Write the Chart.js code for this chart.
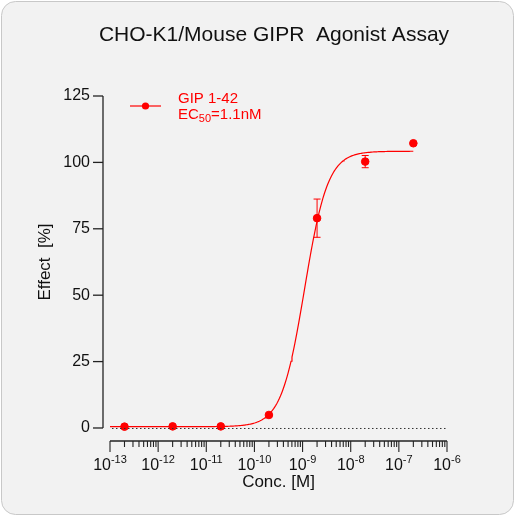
<!DOCTYPE html>
<html><head><meta charset="utf-8">
<script src="https://cdn.jsdelivr.net/npm/chart.js@4"></script>
<style>html,body{margin:0;padding:0;background:#fff}#w{width:515px;height:516px}</style>
</head><body><div id="w"><canvas id="c" width="515" height="516"></canvas></div>
<script>
const concentrations = [2e-13, 2e-12, 2e-11, 2e-10, 2e-9, 2e-8, 2e-7];
const effects = [0.5, 0.6, 0.6, 4.9, 79, 100.3, 107.2];
const errors = [0, 0, 0, 0, 7.2, 2.3, 0];
// four-parameter logistic fit
const fitBottom = 0.5, fitTop = 104.2, fitEC50 = 1.1e-9, fitHill = 1.8;
const xDecades = [-13, -12, -11, -10, -9, -8, -7, -6];
const yTicks = [0, 25, 50, 75, 100, 125];

const curve = [];
for (let e = -13; e <= Math.log10(2e-7) + 1e-9; e += 0.02) {
  const x = Math.pow(10, e);
  curve.push({x, y: fitBottom + (fitTop - fitBottom) / (1 + Math.pow(fitEC50 / x, fitHill))});
}
const RED = '#ff0000', F = '"Liberation Sans", Arial, sans-serif';

const deco = {
  id: 'deco',
  beforeDraw(ch) {
    const c = ch.ctx; c.save();
    c.fillStyle = '#f2f2f2'; c.strokeStyle = '#c8c8c8'; c.lineWidth = 1;
    c.beginPath(); c.roundRect(1.5, 1.5, 512, 513, 14); c.fill(); c.stroke();
    c.restore();
  },
  afterDatasetsDraw(ch) {
    const c = ch.ctx, xs = ch.scales.x, ys = ch.scales.y;
    c.save();
    c.strokeStyle = RED; c.lineWidth = 1;
    concentrations.forEach((x, i) => {
      if (!errors[i]) return;
      const px = xs.getPixelForValue(x), t = ys.getPixelForValue(effects[i] + errors[i]), b = ys.getPixelForValue(effects[i] - errors[i]);
      c.beginPath(); c.moveTo(px, t); c.lineTo(px, b);
      c.moveTo(px - 3.5, t); c.lineTo(px + 3.5, t); c.moveTo(px - 3.5, b); c.lineTo(px + 3.5, b); c.stroke();
    });
    const y0 = ys.getPixelForValue(0);
    c.strokeStyle = '#333'; c.setLineDash([1.5, 2.5]);
    c.beginPath(); c.moveTo(xs.left + 2, y0 + 0.5); c.lineTo(xs.right, y0 + 0.5); c.stroke(); c.setLineDash([]);
    c.strokeStyle = '#222'; c.lineWidth = 1.3;
    const ax = xs.left - 7;
    c.beginPath(); c.moveTo(ax, ys.getPixelForValue(125)); c.lineTo(ax, y0); c.stroke();
    c.fillStyle = '#111'; c.font = '16px ' + F; c.textAlign = 'right'; c.textBaseline = 'middle';
    yTicks.forEach(v => {
      const p = ys.getPixelForValue(v);
      c.beginPath(); c.moveTo(ax - 10, p); c.lineTo(ax, p); c.stroke();
      c.fillText(String(v), ax - 13, p);
    });
    const xb = ys.bottom;
    c.beginPath(); c.moveTo(xs.left, xb); c.lineTo(xs.right, xb); c.stroke();
    c.lineWidth = 1.1;
    xDecades.forEach((d, k) => {
      const p = xs.getPixelForValue(Math.pow(10, d));
      c.beginPath(); c.moveTo(p, xb); c.lineTo(p, xb + 11); c.stroke();
      if (k < xDecades.length - 1) for (let m = 2; m <= 9; m++) {
        const q = xs.getPixelForValue(m * Math.pow(10, d));
        c.beginPath(); c.moveTo(q, xb); c.lineTo(q, xb + 6); c.stroke();
      }
      c.font = '16px ' + F; c.textAlign = 'left'; c.textBaseline = 'alphabetic';
      const base = '10', sup = String(d);
      const w1 = c.measureText(base).width; c.font = '11px ' + F;
      const w2 = c.measureText(sup).width, x0 = p - (w1 + w2) / 2;
      c.font = '16px ' + F; c.fillText(base, x0, xb + 29);
      c.font = '11px ' + F; c.fillText(sup, x0 + w1, xb + 22);
    });
    c.font = '17px ' + F; c.textAlign = 'center'; c.fillStyle = '#111';
    c.fillText('Conc. [M]', (xs.left + xs.right) / 2, 487);
    c.save(); c.translate(50, 262); c.rotate(-Math.PI / 2); c.fillText('Effect  [%]', 0, 0); c.restore();
    c.font = '21px ' + F; c.fillText('CHO-K1/Mouse GIPR  Agonist Assay', 274, 41);
    c.strokeStyle = RED; c.fillStyle = RED; c.lineWidth = 1.2;
    c.beginPath(); c.moveTo(130, 106); c.lineTo(161, 106); c.stroke();
    c.beginPath(); c.arc(145.5, 106, 3.6, 0, Math.PI * 2); c.fill();
    c.font = '15px ' + F; c.textAlign = 'left';
    c.fillText('GIP 1-42', 178, 103);
    c.fillText('EC', 178, 119); let w = c.measureText('EC').width;
    c.font = '11px ' + F; c.fillText('50', 178 + w, 122); let w2 = c.measureText('50').width;
    c.font = '15px ' + F; c.fillText('=1.1nM', 178 + w + w2, 119);
    c.restore();
  }
};

new Chart(document.getElementById('c'), {
  type: 'scatter',
  data: { datasets: [
    { data: concentrations.map((x, i) => ({x, y: effects[i]})), backgroundColor: RED, borderColor: RED, pointRadius: 3.8, pointHoverRadius: 3.8 },
    { data: curve, showLine: true, borderColor: RED, borderWidth: 1.2, pointRadius: 0, fill: false }
  ]},
  options: {
    responsive: false, animation: false, events: [],
    layout: { padding: { left: 110, right: 68, top: 96, bottom: 75 } },
    plugins: { legend: { display: false }, tooltip: { enabled: false } },
    scales: {
      x: { type: 'logarithmic', min: 1e-13, max: 1e-6, display: false },
      y: { type: 'linear', min: -4.9, max: 125, display: false }
    }
  },
  plugins: [deco]
});
</script></body></html>
